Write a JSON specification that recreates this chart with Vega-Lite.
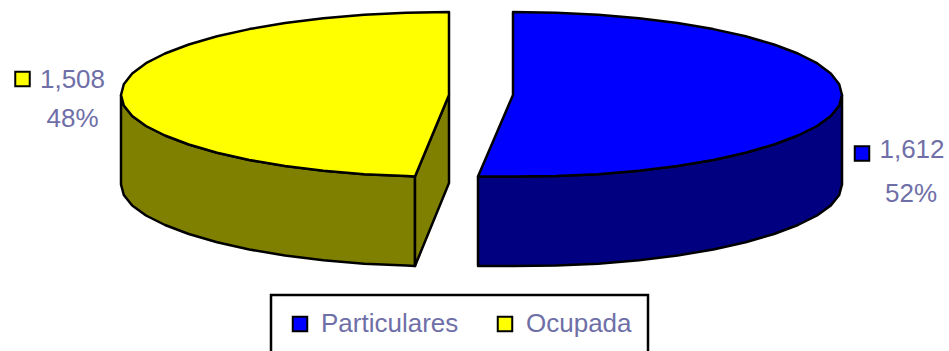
{"$schema":"https://vega.github.io/schema/vega-lite/v6.json","width":949,"height":351,"autosize":{"type":"none"},"padding":0,"background":"white","config":{"view":{"stroke":null},"legend":{"strokeWidth":2.5}},"encoding":{"x":{"field":"x","type":"quantitative","scale":{"domain":[0,949],"nice":false,"zero":false},"axis":null},"y":{"field":"y","type":"quantitative","scale":{"domain":[351,0],"nice":false,"zero":false},"axis":null}},"layer":[{"data":{"values":[
{"part":"Ocupada lado","i":0,"x":121,"y":95},{"part":"Ocupada lado","i":1,"x":123.8,"y":105.5},{"part":"Ocupada lado","i":2,"x":132.2,"y":116},{"part":"Ocupada lado","i":3,"x":146,"y":126},{"part":"Ocupada lado","i":4,"x":165,"y":135.5},{"part":"Ocupada lado","i":5,"x":188.8,"y":144.5},{"part":"Ocupada lado","i":6,"x":217.1,"y":152.7},{"part":"Ocupada lado","i":7,"x":249.3,"y":160},{"part":"Ocupada lado","i":8,"x":285,"y":166},{"part":"Ocupada lado","i":9,"x":323.5,"y":170.7},{"part":"Ocupada lado","i":10,"x":364.1,"y":174.2},{"part":"Ocupada lado","i":11,"x":406.2,"y":176},{"part":"Ocupada lado","i":12,"x":415,"y":176.5},{"part":"Ocupada lado","i":13,"x":415,"y":266},{"part":"Ocupada lado","i":14,"x":406.2,"y":265.5},{"part":"Ocupada lado","i":15,"x":364.1,"y":263.7},{"part":"Ocupada lado","i":16,"x":323.5,"y":260.2},{"part":"Ocupada lado","i":17,"x":285,"y":255.5},{"part":"Ocupada lado","i":18,"x":249.3,"y":249.5},{"part":"Ocupada lado","i":19,"x":217.1,"y":242.2},{"part":"Ocupada lado","i":20,"x":188.8,"y":234},{"part":"Ocupada lado","i":21,"x":165,"y":225},{"part":"Ocupada lado","i":22,"x":146,"y":215.5},{"part":"Ocupada lado","i":23,"x":132.2,"y":205.5},{"part":"Ocupada lado","i":24,"x":123.8,"y":195},{"part":"Ocupada lado","i":25,"x":121,"y":184.5},{"part":"Ocupada lado","i":26,"x":121,"y":95},
{"part":"Ocupada corte","i":0,"x":415,"y":176.5},{"part":"Ocupada corte","i":1,"x":449,"y":95},{"part":"Ocupada corte","i":2,"x":449,"y":183},{"part":"Ocupada corte","i":3,"x":415,"y":266},{"part":"Ocupada corte","i":4,"x":415,"y":176.5},
{"part":"Particulares lado","i":0,"x":842,"y":95},{"part":"Particulares lado","i":1,"x":839.2,"y":105.5},{"part":"Particulares lado","i":2,"x":830.8,"y":116},{"part":"Particulares lado","i":3,"x":817,"y":126},{"part":"Particulares lado","i":4,"x":797.9,"y":135.5},{"part":"Particulares lado","i":5,"x":774,"y":144.5},{"part":"Particulares lado","i":6,"x":745.6,"y":152.7},{"part":"Particulares lado","i":7,"x":713.3,"y":160},{"part":"Particulares lado","i":8,"x":677.5,"y":166},{"part":"Particulares lado","i":9,"x":638.9,"y":170.7},{"part":"Particulares lado","i":10,"x":598.1,"y":174.2},{"part":"Particulares lado","i":11,"x":555.9,"y":176},{"part":"Particulares lado","i":12,"x":513,"y":176.5},{"part":"Particulares lado","i":13,"x":478,"y":176.5},{"part":"Particulares lado","i":14,"x":478,"y":266},{"part":"Particulares lado","i":15,"x":513,"y":266},{"part":"Particulares lado","i":16,"x":555.9,"y":265.5},{"part":"Particulares lado","i":17,"x":598.1,"y":263.7},{"part":"Particulares lado","i":18,"x":638.9,"y":260.2},{"part":"Particulares lado","i":19,"x":677.5,"y":255.5},{"part":"Particulares lado","i":20,"x":713.3,"y":249.5},{"part":"Particulares lado","i":21,"x":745.6,"y":242.2},{"part":"Particulares lado","i":22,"x":774,"y":234},{"part":"Particulares lado","i":23,"x":797.9,"y":225},{"part":"Particulares lado","i":24,"x":817,"y":215.5},{"part":"Particulares lado","i":25,"x":830.8,"y":205.5},{"part":"Particulares lado","i":26,"x":839.2,"y":195},{"part":"Particulares lado","i":27,"x":842,"y":184.5},{"part":"Particulares lado","i":28,"x":842,"y":95},
{"part":"Ocupada","i":0,"x":449,"y":95},{"part":"Ocupada","i":1,"x":449,"y":12},{"part":"Ocupada","i":2,"x":406.2,"y":12.7},{"part":"Ocupada","i":3,"x":364.1,"y":14.8},{"part":"Ocupada","i":4,"x":323.5,"y":18.3},{"part":"Ocupada","i":5,"x":285,"y":23.1},{"part":"Ocupada","i":6,"x":249.3,"y":29.1},{"part":"Ocupada","i":7,"x":217.1,"y":36.3},{"part":"Ocupada","i":8,"x":188.8,"y":44.5},{"part":"Ocupada","i":9,"x":165,"y":53.5},{"part":"Ocupada","i":10,"x":146,"y":63.2},{"part":"Ocupada","i":11,"x":132.2,"y":73.5},{"part":"Ocupada","i":12,"x":123.8,"y":84.2},{"part":"Ocupada","i":13,"x":121,"y":95},{"part":"Ocupada","i":14,"x":123.8,"y":105.5},{"part":"Ocupada","i":15,"x":132.2,"y":116},{"part":"Ocupada","i":16,"x":146,"y":126},{"part":"Ocupada","i":17,"x":165,"y":135.5},{"part":"Ocupada","i":18,"x":188.8,"y":144.5},{"part":"Ocupada","i":19,"x":217.1,"y":152.7},{"part":"Ocupada","i":20,"x":249.3,"y":160},{"part":"Ocupada","i":21,"x":285,"y":166},{"part":"Ocupada","i":22,"x":323.5,"y":170.7},{"part":"Ocupada","i":23,"x":364.1,"y":174.2},{"part":"Ocupada","i":24,"x":406.2,"y":176},{"part":"Ocupada","i":25,"x":415,"y":176.5},{"part":"Ocupada","i":26,"x":449,"y":95},
{"part":"Particulares","i":0,"x":513,"y":95},{"part":"Particulares","i":1,"x":513,"y":12},{"part":"Particulares","i":2,"x":555.9,"y":12.7},{"part":"Particulares","i":3,"x":598.1,"y":14.8},{"part":"Particulares","i":4,"x":638.9,"y":18.3},{"part":"Particulares","i":5,"x":677.5,"y":23.1},{"part":"Particulares","i":6,"x":713.3,"y":29.1},{"part":"Particulares","i":7,"x":745.6,"y":36.3},{"part":"Particulares","i":8,"x":774,"y":44.5},{"part":"Particulares","i":9,"x":797.9,"y":53.5},{"part":"Particulares","i":10,"x":817,"y":63.2},{"part":"Particulares","i":11,"x":830.8,"y":73.5},{"part":"Particulares","i":12,"x":839.2,"y":84.2},{"part":"Particulares","i":13,"x":842,"y":95},{"part":"Particulares","i":14,"x":839.2,"y":105.5},{"part":"Particulares","i":15,"x":830.8,"y":116},{"part":"Particulares","i":16,"x":817,"y":126},{"part":"Particulares","i":17,"x":797.9,"y":135.5},{"part":"Particulares","i":18,"x":774,"y":144.5},{"part":"Particulares","i":19,"x":745.6,"y":152.7},{"part":"Particulares","i":20,"x":713.3,"y":160},{"part":"Particulares","i":21,"x":677.5,"y":166},{"part":"Particulares","i":22,"x":638.9,"y":170.7},{"part":"Particulares","i":23,"x":598.1,"y":174.2},{"part":"Particulares","i":24,"x":555.9,"y":176},{"part":"Particulares","i":25,"x":513,"y":176.5},{"part":"Particulares","i":26,"x":478,"y":176.5},{"part":"Particulares","i":27,"x":513,"y":95}
]},"mark":{"type":"line","filled":true,"stroke":"black","strokeWidth":2.5,"strokeJoin":"round"},"encoding":{"order":{"field":"i","type":"quantitative"},"fill":{"field":"part","type":"nominal","scale":{"domain":["Particulares","Ocupada","Particulares lado","Ocupada lado","Ocupada corte"],"range":["#0000ff","#ffff00","#000080","#808000","#808000"]},"legend":{"values":["Particulares","Ocupada"],"title":null,"orient":"none","legendX":271,"legendY":295,"direction":"horizontal","columns":2,"padding":16,"strokeColor":"black","symbolType":"square","symbolSize":210,"symbolStrokeColor":"black","symbolStrokeWidth":2,"labelFont":"Liberation Sans","labelFontSize":26,"labelColor":"#6f6fa8","columnPadding":33,"labelOffset":8,"symbolOpacity":1}}}},
{"data":{"values":[{"part":"Ocupada","x":22.5,"y":79},{"part":"Particulares","x":862,"y":153.5}]},"mark":{"type":"point","shape":"square","filled":true,"size":210,"stroke":"black","strokeWidth":2,"opacity":1},"encoding":{"fill":{"field":"part","type":"nominal","legend":null}}},
{"data":{"values":[{"label":"1,508","x":72.5,"y":88},{"label":"48%","x":72.5,"y":127},{"label":"1,612","x":912,"y":158},{"label":"52%","x":911,"y":202}]},"mark":{"type":"text","font":"Liberation Sans","fontSize":26,"color":"#6f6fa8","baseline":"alphabetic","align":"center"},"encoding":{"text":{"field":"label","type":"nominal"}}}
]}
